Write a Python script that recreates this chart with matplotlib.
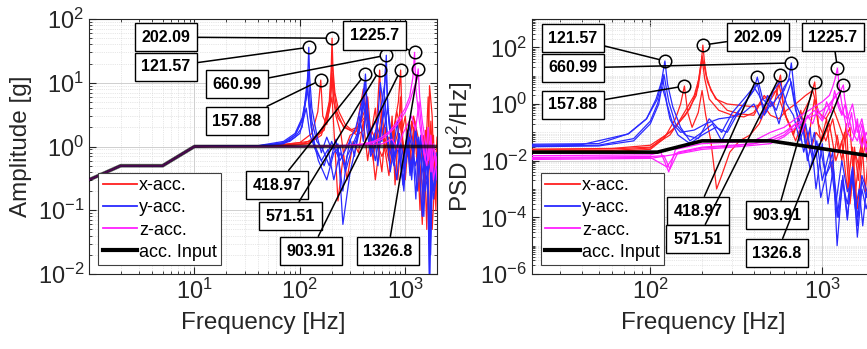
import numpy as np
import matplotlib
matplotlib.use("Agg")
import matplotlib.pyplot as plt
from matplotlib.lines import Line2D
from matplotlib.ticker import LogLocator, NullFormatter, FixedLocator, LogFormatterSciNotation

plt.rcParams['font.family'] = ['Liberation Sans', 'DejaVu Sans']
plt.rcParams['mathtext.fontset'] = 'custom'
plt.rcParams['mathtext.rm'] = 'Liberation Sans'
plt.rcParams['mathtext.it'] = 'Liberation Sans:italic'
plt.rcParams['mathtext.bf'] = 'Liberation Sans:bold'
plt.rcParams['mathtext.default'] = 'regular'
plt.rcParams['axes.unicode_minus'] = False

# ---------------- data: amplitude (left) ----------------
amp_in_f = [1, 2, 5, 10, 2000]
amp_in_a = [0.3, 0.5, 0.5, 1.0, 1.0]

amp_x_f = [
    [1, 2, 5, 10, 50, 100, 140, 170, 190, 198, 202.09, 206, 215, 235, 270, 300, 340, 380, 420, 460, 500, 540, 571.51, 600, 640, 700, 760, 830, 900, 980, 1050, 1150, 1250, 1350, 1450, 1550, 1650, 1750, 1850, 2000],
    [1, 2, 5, 10, 50, 100, 130, 148, 157.88, 165, 180, 195, 202, 210, 230, 260, 300, 350, 400, 440, 480, 520, 600, 700, 800, 860, 903.91, 950, 1050, 1150, 1250, 1350, 1500, 1600, 1700, 1800, 1900, 2000],
    [1, 2, 5, 10, 60, 120, 160, 185, 202, 212, 230, 260, 300, 340, 400, 450, 500, 560, 600, 640, 700, 780, 850, 920, 1000, 1100, 1200, 1300, 1400, 1500, 1650, 1700, 1800, 2000],
    [1, 2, 5, 10, 60, 120, 170, 195, 202, 210, 225, 260, 300, 350, 420, 500, 600, 700, 800, 900, 1000, 1200, 1400, 1600, 1800, 2000],
    [1, 2, 5, 10, 60, 120, 160, 190, 202, 208, 220, 245, 280, 320, 360, 400, 440, 480, 520, 560, 600, 650, 700, 750, 800, 850, 900, 950, 1000, 1080, 1150, 1230, 1300, 1380, 1450, 1520, 1600, 1680, 1750, 1850, 1950, 2000],
]
amp_x_a = [
    [0.3, 0.5, 0.5, 1, 1.01, 1.08, 1.3, 2.2, 5, 15, 50, 17, 7, 3.5, 2.2, 1.9, 1.7, 2.5, 4, 1.2, 0.6, 3, 15.8, 2, 0.9, 0.35, 1.2, 3.5, 2, 0.8, 1.5, 0.4, 1.2, 0.7, 0.06, 1.8, 0.5, 2.5, 0.3, 0.9],
    [0.3, 0.5, 0.5, 1, 1.02, 1.15, 1.6, 3.5, 11, 3, 2.2, 5, 12, 5, 2.8, 2.1, 1.8, 1.5, 1.8, 6, 1.1, 0.3, 2, 0.8, 2.5, 5, 15.8, 1, 0.7, 2.5, 1.2, 0.2, 1.5, 0.05, 9, 3, 0.15, 0.8],
    [0.3, 0.5, 0.5, 1, 1.03, 1.2, 1.7, 3, 6, 1.5, 0.14, 0.8, 1.5, 1.7, 8, 2, 0.9, 1.4, 4, 1.1, 0.6, 2, 0.3, 1.5, 3, 0.5, 2, 1.1, 0.4, 0.15, 6, 0.6, 0.05, 1.4],
    [0.3, 0.5, 0.5, 1, 1.02, 1.12, 1.8, 6, 25, 8, 3.5, 2, 1.8, 2, 3, 1.5, 0.7, 1.4, 1.1, 2.5, 0.5, 3, 0.9, 0.5, 1.5, 0.2],
    [0.3, 0.5, 0.5, 1, 1.02, 1.1, 1.5, 4, 14, 6, 3, 1.6, 0.3, 1.2, 0.8, 2.5, 0.6, 1.8, 4, 0.9, 0.4, 2, 0.7, 3, 0.25, 1.1, 6, 0.8, 0.3, 1.6, 0.5, 2.5, 0.9, 0.1, 1.4, 0.3, 2, 0.03, 0.6, 1.5, 0.1, 0.4],
]
amp_y_f = [
    [1, 2, 5, 10, 40, 70, 90, 105, 115, 119, 121.57, 124, 130, 145, 160, 180, 200, 230, 256, 300, 350, 400, 418.97, 440, 480, 540, 600, 640, 660.99, 680, 740, 800, 880, 950, 1050, 1150, 1250, 1350, 1450, 1550, 1650, 1700, 1750, 1850, 2000],
    [1, 2, 5, 10, 40, 70, 90, 105, 115, 120, 124, 130, 145, 165, 190, 220, 256, 280, 320, 370, 410, 470, 520, 580, 620, 650, 700, 760, 830, 900, 1000, 1100, 1200, 1300, 1400, 1500, 1600, 1700, 1800, 2000],
    [1, 2, 5, 10, 40, 70, 90, 105, 118, 125, 135, 150, 180, 210, 240, 270, 310, 360, 400, 430, 470, 530, 580, 640, 700, 780, 860, 950, 1050, 1150, 1250, 1400, 1550, 1700, 1850, 2000],
    [1, 2, 5, 10, 50, 80, 100, 115, 125, 140, 170, 200, 240, 290, 340, 400, 460, 520, 600, 680, 760, 850, 950, 1100, 1250, 1400, 1600, 1800, 2000],
    [1, 2, 5, 10, 40, 70, 90, 108, 117, 122, 128, 140, 160, 185, 210, 240, 270, 300, 330, 370, 400, 430, 470, 510, 550, 600, 640, 680, 720, 780, 840, 900, 970, 1040, 1110, 1180, 1260, 1340, 1420, 1500, 1580, 1660, 1740, 1820, 1900, 2000],
]
amp_y_a = [
    [0.3, 0.5, 0.5, 1, 1.02, 1.15, 1.5, 2.5, 6, 14, 36, 12, 4, 1.5, 0.8, 1.4, 0.9, 1.1, 0.06, 0.4, 1.2, 4, 13.7, 3, 1.2, 2, 5, 10, 27, 4, 1.5, 0.7, 1.6, 0.4, 1.8, 0.3, 2, 0.6, 0.08, 1.2, 0.3, 0.005, 0.9, 0.2, 0.6],
    [0.3, 0.5, 0.5, 1, 1.03, 1.2, 1.6, 2.8, 6, 15, 6, 2.5, 1.2, 0.9, 0.5, 1.3, 0.2, 0.7, 1.1, 2, 10, 1.5, 0.6, 1.7, 3, 18, 2.5, 0.9, 0.3, 1.2, 0.5, 2.2, 0.8, 0.2, 1.5, 0.4, 1.1, 0.008, 0.5, 0.3],
    [0.3, 0.5, 0.5, 1, 1.02, 1.1, 1.4, 2, 8, 3, 1.2, 0.6, 0.3, 0.8, 1, 0.4, 0.9, 1.5, 5, 2, 0.7, 1.2, 10, 3, 1, 0.5, 1.3, 0.25, 1, 0.4, 1.8, 0.7, 0.2, 0.6, 0.15, 0.4],
    [0.3, 0.5, 0.5, 1, 1.02, 1.2, 1.6, 4, 1.5, 0.9, 0.5, 1.2, 0.6, 1.1, 2, 6, 1.5, 2.5, 1.2, 4, 0.6, 1, 0.3, 1.4, 0.5, 1.2, 0.3, 0.9, 0.5],
    [0.3, 0.5, 0.5, 1, 1.02, 1.12, 1.5, 3, 10, 5, 2, 1, 0.6, 0.9, 0.3, 0.8, 0.5, 1.3, 0.7, 3, 1.2, 6, 0.8, 1.5, 0.5, 2.5, 6, 1.2, 0.4, 1, 2.5, 0.6, 0.2, 1.3, 0.35, 0.9, 0.15, 1.4, 0.5, 0.08, 0.7, 0.2, 0.02, 0.5, 0.3, 0.8],
]
amp_z_f = [
    [1, 2, 5, 10, 100, 200, 300, 400, 500, 600, 700, 800, 900, 1000, 1100, 1180, 1225.7, 1260, 1300, 1360, 1420, 1500, 1600, 1700, 1800, 1900, 2000],
    [1, 2, 5, 10, 100, 200, 300, 400, 500, 600, 700, 800, 900, 1000, 1100, 1200, 1280, 1326.8, 1370, 1450, 1550, 1650, 1750, 1850, 2000],
    [1, 2, 5, 10, 200, 400, 600, 750, 850, 950, 1050, 1150, 1250, 1350, 1450, 1550, 1650, 1750, 1850, 2000],
]
amp_z_a = [
    [0.3, 0.5, 0.5, 1, 1.0, 1.02, 1.05, 1.1, 1.2, 1.4, 1.7, 2.2, 3, 4, 6, 12, 30, 8, 5, 2.5, 1.5, 0.8, 0.5, 1.2, 0.4, 0.8, 0.3],
    [0.3, 0.5, 0.5, 1, 1.0, 1.02, 1.04, 1.08, 1.15, 1.3, 1.6, 2, 2.6, 3.5, 5, 8, 11, 16.5, 6, 2.5, 1.2, 0.6, 1.5, 0.3, 0.7],
    [0.3, 0.5, 0.5, 1, 1.0, 1.05, 1.1, 1.3, 0.9, 1.6, 2.2, 3, 1.8, 5, 1.5, 0.6, 2, 0.4, 1.1, 0.5],
]

# ---------------- data: PSD (right) ----------------
psd_in_f = [20, 110, 200, 500, 2000]
psd_in_p = [0.02, 0.02, 0.05, 0.05, 0.014]

psd_x_f = [
    [20, 60, 100, 130, 150, 165, 180, 192, 198, 202.09, 206, 212, 225, 243, 280, 330, 400, 450, 500, 540, 571.51, 600, 640, 700, 780, 850, 920, 1000, 1100, 1200, 1300, 1400, 1500, 1600, 1700, 1800, 2000],
    [20, 60, 100, 120, 140, 150, 157.88, 165, 175, 190, 200, 210, 225, 243, 260, 290, 330, 380, 430, 480, 540, 600, 680, 760, 850, 903.91, 950, 1050, 1150, 1250, 1350, 1450, 1550, 1650, 1750, 1850, 2000],
    [20, 60, 100, 130, 160, 185, 200, 215, 240, 280, 330, 400, 450, 500, 560, 620, 700, 800, 880, 950, 1050, 1150, 1250, 1350, 1450, 1550, 1650, 1750, 1850, 2000],
    [20, 60, 100, 140, 170, 190, 200, 207, 220, 250, 300, 350, 400, 460, 520, 560, 620, 680, 750, 820, 900, 980, 1060, 1140, 1220, 1300, 1380, 1460, 1540, 1620, 1700, 1780, 1860, 2000],
]
psd_x_p = [
    [0.025, 0.026, 0.03, 0.08, 0.3, 0.8, 2, 8, 30, 120, 35, 10, 3, 1.5, 0.6, 0.45, 0.4, 1.5, 2, 3, 10.5, 0.5, 0.2, 0.05, 0.3, 0.02, 0.1, 0.05, 0.2, 0.01, 0.05, 0.001, 0.03, 0.0002, 0.01, 0.05, 0.005],
    [0.02, 0.021, 0.025, 0.06, 0.3, 1, 4.3, 0.5, 0.15, 0.5, 3, 0.4, 0.05, 0.001, 0.003, 0.02, 0.05, 0.08, 0.2, 0.9, 3, 0.5, 0.1, 0.4, 1.5, 6, 0.2, 0.05, 0.3, 0.02, 0.1, 0.0003, 0.02, 0.005, 0.1, 0.01, 0.03],
    [0.025, 0.027, 0.035, 0.1, 0.4, 2, 50, 6, 1.5, 1, 0.9, 0.8, 1, 0.4, 0.3, 0.6, 1, 2, 3, 0.5, 0.3, 0.8, 0.2, 0.05, 0.15, 0.0005, 0.02, 0.1, 0.005, 0.02],
    [0.022, 0.023, 0.028, 0.15, 0.7, 4, 40, 8, 1.5, 0.6, 0.4, 0.35, 0.5, 2, 0.8, 5, 0.3, 0.08, 0.6, 0.03, 1.5, 0.05, 0.3, 0.004, 0.08, 0.01, 0.2, 0.0005, 0.03, 0.002, 0.06, 0.0008, 0.02, 0.005],
]
psd_y_f = [
    [20, 50, 75, 95, 108, 116, 121.57, 126, 135, 150, 170, 200, 230, 260, 300, 350, 400, 418.97, 450, 500, 560, 600, 640, 660.99, 700, 760, 820, 900, 980, 1050, 1150, 1220, 1317, 1400, 1500, 1600, 1700, 1800, 2000],
    [20, 50, 80, 100, 112, 120, 128, 140, 160, 190, 220, 260, 300, 350, 400, 430, 470, 520, 566, 620, 680, 740, 800, 880, 960, 1050, 1150, 1220, 1300, 1400, 1500, 1600, 1700, 1800, 2000],
    [20, 40, 74, 95, 110, 118, 125, 135, 150, 180, 210, 250, 300, 350, 400, 440, 480, 540, 600, 650, 700, 780, 850, 930, 1000, 1100, 1200, 1300, 1400, 1500, 1600, 1700, 1850, 2000],
    [20, 50, 80, 100, 110, 117, 123, 130, 145, 170, 200, 240, 280, 330, 380, 420, 460, 510, 560, 610, 660, 720, 780, 850, 920, 1000, 1080, 1160, 1240, 1320, 1400, 1480, 1560, 1640, 1720, 1800, 1900, 2000],
]
psd_y_p = [
    [0.038, 0.04, 0.09, 0.3, 1.5, 6, 33, 5, 0.8, 0.15, 0.05, 0.1, 0.2, 0.05, 0.3, 1, 3, 8.9, 1.5, 0.8, 2, 3, 8, 28, 1, 0.3, 0.01, 0.1, 0.0005, 0.003, 0.02, 0.00001, 0.003, 0.0001, 0.005, 0.00002, 0.001, 0.0002, 0.003],
    [0.031, 0.033, 0.05, 0.2, 1, 11, 1.2, 0.2, 0.08, 0.06, 0.3, 0.1, 0.5, 1.5, 4, 2, 0.5, 3, 6, 1, 0.4, 0.05, 0.2, 0.01, 0.04, 0.003, 0.01, 0.0001, 0.002, 0.0003, 0.006, 0.0001, 0.002, 0.0005, 0.001],
    [0.035, 0.037, 0.087, 0.3, 1.5, 8, 1, 0.2, 0.1, 0.12, 0.2, 0.3, 0.35, 0.5, 1, 0.3, 2, 0.6, 4, 8, 0.6, 0.1, 0.005, 0.05, 0.002, 0.02, 0.0003, 0.01, 0.0008, 0.002, 0.00005, 0.003, 0.0006, 0.002],
    [0.033, 0.035, 0.06, 0.25, 1, 4, 1.5, 0.3, 0.08, 0.04, 0.08, 0.15, 0.1, 0.6, 2, 5, 0.4, 1.2, 0.2, 1.5, 6, 0.3, 0.02, 0.15, 0.001, 0.04, 0.0003, 0.006, 0.0001, 0.002, 0.00008, 0.004, 0.0002, 0.001, 0.00005, 0.0008, 0.0002, 0.001],
]
psd_z_f = [
    [20, 100, 115, 128, 140, 200, 300, 400, 500, 600, 700, 800, 900, 1000, 1100, 1150, 1190, 1225.7, 1250, 1300, 1400, 1500, 1600, 1700, 1800, 2000],
    [20, 100, 120, 130, 145, 200, 300, 400, 500, 600, 700, 800, 900, 1000, 1100, 1200, 1280, 1326.8, 1350, 1400, 1500, 1600, 1700, 1800, 2000],
    [20, 100, 150, 200, 300, 400, 500, 600, 700, 800, 900, 1000, 1100, 1200, 1300, 1400, 1500, 1600, 1700, 1800, 2000],
    [20, 100, 125, 140, 200, 300, 400, 500, 600, 700, 760, 820, 880, 940, 1000, 1060, 1120, 1180, 1240, 1300, 1360, 1420, 1480, 1540, 1600, 1660, 1720, 1800, 1900, 2000],
]
psd_z_p = [
    [0.015, 0.016, 0.02, 0.004, 0.025, 0.04, 0.045, 0.05, 0.1, 0.15, 0.3, 0.5, 0.8, 1.2, 2, 4, 8, 18.6, 5, 1, 0.1, 0.05, 0.2, 0.03, 0.1, 0.02],
    [0.013, 0.014, 0.015, 0.005, 0.02, 0.03, 0.035, 0.04, 0.06, 0.1, 0.2, 0.3, 0.4, 0.6, 1, 2, 3, 4.7, 1.5, 0.5, 0.1, 0.05, 0.2, 0.02, 0.05],
    [0.011, 0.012, 0.018, 0.025, 0.03, 0.035, 0.04, 0.07, 0.15, 0.3, 0.6, 0.25, 0.8, 2, 0.5, 0.3, 1, 0.1, 0.3, 0.05, 0.1],
    [0.012, 0.013, 0.006, 0.018, 0.028, 0.033, 0.04, 0.05, 0.08, 0.2, 0.1, 0.4, 0.2, 0.7, 0.3, 1.2, 0.5, 3, 0.8, 0.4, 1, 0.15, 0.5, 0.08, 0.3, 0.04, 0.15, 0.03, 0.08, 0.05],
]

# ---------------- peaks / annotations ----------------
peak_labels = ['121.57', '157.88', '202.09', '418.97', '571.51', '660.99', '903.91', '1225.7', '1326.8']
peak_f = [121.57, 157.88, 202.09, 418.97, 571.51, 660.99, 903.91, 1225.7, 1326.8]
amp_peak = [36, 11, 50, 13.7, 15.8, 27, 15.8, 30, 16.5]
psd_peak = [33, 4.3, 120, 8.9, 10.5, 28, 6, 18.6, 4.7]

# label box centres in axes fraction
amp_box = [(0.221, 0.812), (0.425, 0.600), (0.221, 0.929), (0.540, 0.349), (0.578, 0.227),
           (0.425, 0.745), (0.638, 0.090), (0.820, 0.935), (0.859, 0.090)]
psd_box = [(0.120, 0.925), (0.120, 0.663), (0.661, 0.929), (0.485, 0.247), (0.485, 0.137),
           (0.120, 0.808), (0.716, 0.231), (0.880, 0.929), (0.716, 0.082)]

legend_labels = ['x-acc.', 'y-acc.', 'z-acc.', 'acc. Input']
col_x, col_y, col_z = '#ff2020', '#2a2aff', '#ff20ff'

fig = plt.figure(figsize=(8.67, 3.49), dpi=100)
ax1 = fig.add_axes([89 / 867, 75 / 349, 348 / 867, 255 / 349])
ax2 = fig.add_axes([532 / 867, 75 / 349, 342 / 867, 255 / 349])


def draw(ax, f_in, v_in, fx, vx, fy, vy, fz, vz, peaks, boxes, in_alpha):
    for f, v in zip(fx, vx):
        ax.plot(f, v, color=col_x, lw=0.9, zorder=3)
    for f, v in zip(fy, vy):
        ax.plot(f, v, color=col_y, lw=0.9, zorder=3)
    for f, v in zip(fz, vz):
        ax.plot(f, v, color=col_z, lw=0.9, zorder=3)
    # input on top; on the left it is see-through so the overlap looks purple as in the original
    ax.plot(f_in, v_in, color='black', lw=2.6, alpha=in_alpha, zorder=4)
    handles = [Line2D([], [], color=col_x, lw=1.3), Line2D([], [], color=col_y, lw=1.3),
               Line2D([], [], color=col_z, lw=1.3), Line2D([], [], color='black', lw=3)]
    ax.plot(peak_f, peaks, 'o', mfc='none', mec='black', ms=9, mew=1.1, zorder=5)
    for lab, fp, vp, (bx, by) in zip(peak_labels, peak_f, peaks, boxes):
        ax.annotate(lab, xy=(fp, vp), xycoords='data', xytext=(bx, by), textcoords='axes fraction',
                    ha='center', va='center', fontsize=11.5, fontweight='bold', zorder=6,
                    bbox=dict(boxstyle='square,pad=0.42', fc='white', ec='black', lw=1.0),
                    arrowprops=dict(arrowstyle='-', color='black', lw=1.1, shrinkA=0, shrinkB=4.5))
    ax.set_xscale('log')
    ax.set_yscale('log')
    leg = ax.legend(handles, legend_labels, loc='lower left', bbox_to_anchor=(0.026, 0.035),
                    fontsize=13, frameon=True, fancybox=False, edgecolor='#404040', framealpha=1,
                    handlelength=1.9, handletextpad=0.12, labelspacing=0.28, borderpad=0.25,
                    borderaxespad=0)
    leg.get_frame().set_linewidth(0.8)
    leg.set_zorder(7)
    ax.grid(True, which='major', color='#c8c8c8', lw=0.6, ls='-')
    ax.grid(True, which='minor', color='#d0d0d0', lw=0.5, ls=':')
    ax.tick_params(which='both', direction='in', top=True, right=True, labelsize=17, colors='#262626')
    ax.tick_params(which='major', length=5)
    ax.tick_params(which='minor', length=2.5)
    for s in ax.spines.values():
        s.set_color('#262626')
        s.set_linewidth(0.8)
    ax.set_xlabel('Frequency [Hz]', fontsize=17.5, color='#262626', labelpad=6)


draw(ax1, amp_in_f, amp_in_a, amp_x_f, amp_x_a, amp_y_f, amp_y_a, amp_z_f, amp_z_a, amp_peak, amp_box, 0.7)
draw(ax2, psd_in_f, psd_in_p, psd_x_f, psd_x_p, psd_y_f, psd_y_p, psd_z_f, psd_z_p, psd_peak, psd_box, 1.0)

ax1.set_xlim(1.0, 2000)
ax1.set_ylim(1e-2, 1e2)
ax1.xaxis.set_major_locator(FixedLocator([10, 100, 1000]))
ax1.xaxis.set_minor_locator(LogLocator(base=10, subs=np.arange(1, 10), numticks=20))
ax1.xaxis.set_minor_formatter(NullFormatter())
ax1.yaxis.set_major_locator(FixedLocator([1e-2, 1e-1, 1, 10, 100]))
ax1.yaxis.set_minor_locator(LogLocator(base=10, subs=np.arange(2, 10), numticks=20))
ax1.yaxis.set_minor_formatter(NullFormatter())
ax1.set_ylabel('Amplitude [g]', fontsize=17.5, color='#262626', labelpad=4)

ax2.set_xlim(20.5, 2000)
ax2.set_ylim(1e-6, 1e3)
ax2.xaxis.set_major_locator(FixedLocator([100, 1000]))
ax2.xaxis.set_minor_locator(LogLocator(base=10, subs=np.arange(1, 10), numticks=20))
ax2.xaxis.set_minor_formatter(NullFormatter())
ax2.yaxis.set_major_locator(FixedLocator([1e-6, 1e-4, 1e-2, 1, 100]))
ax2.yaxis.set_minor_locator(LogLocator(base=10, subs=np.arange(1, 10), numticks=30))
ax2.yaxis.set_minor_formatter(NullFormatter())
ax2.set_ylabel('PSD [g$^2$/Hz]', fontsize=17.5, color='#262626', labelpad=4)

for ax in (ax1, ax2):
    ax.xaxis.set_major_formatter(LogFormatterSciNotation())
    ax.yaxis.set_major_formatter(LogFormatterSciNotation())

fig.savefig('out.png', dpi=100)
